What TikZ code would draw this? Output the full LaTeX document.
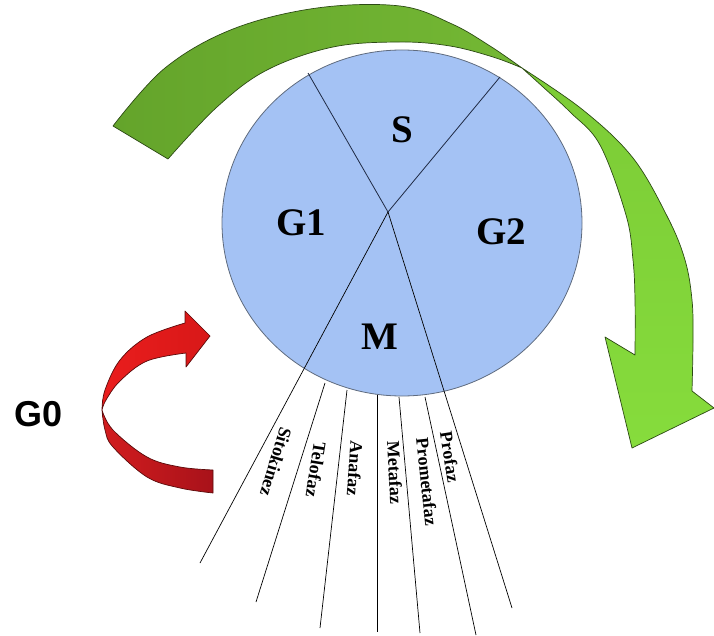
\documentclass[tikz,border=0pt]{standalone}
\usepackage{fontspec}
\setmainfont{Liberation Serif}
\newfontfamily\gsans{Liberation Sans}
\usetikzlibrary{shapes.geometric}
\definecolor{cellblue}{HTML}{A4C2F4}
\definecolor{cellline}{HTML}{5F6B7E}
\definecolor{greenA}{HTML}{64A42B}
\definecolor{greenB}{HTML}{74B834}
\definecolor{greenC}{HTML}{7CCB36}
\definecolor{greenD}{HTML}{86DC3C}
\definecolor{greenedge}{HTML}{2C4A14}
\definecolor{redA}{HTML}{EA1D1D}
\definecolor{redB}{HTML}{D81818}
\definecolor{redC}{HTML}{D21C1E}
\definecolor{redD}{HTML}{A8121A}
\definecolor{rededge}{HTML}{5A0A0A}
\definecolor{divline}{HTML}{1F2A44}
\begin{document}
\begin{tikzpicture}[x=1pt,y=-1pt,
  phaselabel/.style={font=\fontsize{39}{42}\selectfont\bfseries, inner sep=0pt},
  subphase/.style={font=\fontsize{18}{20}\selectfont\bfseries, inner sep=0pt},
  ray/.style={draw=black, line width=0.7pt},
  divider/.style={draw=divline, line width=0.8pt},
  ribbongreen/.style={draw=greenedge, line width=0.7pt, line join=round},
  ribbonred/.style={draw=rededge, line width=0.7pt, line join=round}]
\useasboundingbox (0,0) rectangle (714,636);

% green ribbon arrow, left (darker) part
\path[ribbongreen, left color=greenA, right color=greenB]
  plot[smooth, tension=0.6] coordinates {(113,126) (165,68) (233,29) (317,8) (400,6) (452,24) (490,46) (522,68)}
  -- plot[smooth, tension=0.6] coordinates {(522,68) (493,57) (450,46) (400,42) (333,47) (267,70) (217,107) (168,159)}
  -- cycle;
% green ribbon arrow, right (bright) part with head
\path[ribbongreen, top color=greenC, bottom color=greenD]
  plot[smooth, tension=0.6] coordinates {(522,68) (583,110) (633,158) (668,218) (685,260) (692,300) (693,340) (692,391)}
  -- (714,408) -- (632,448) -- (605,337) -- (635,355)
  -- plot[smooth, tension=0.6] coordinates {(635,355) (635,300) (633,260) (626,215) (600,145) (570,112) (543,87) (522,68)}
  -- cycle;

% red ribbon arrow, upper part with head
\path[ribbonred, left color=redA, right color=redB]
  (185,323) -- (185,311) -- (210,336) -- (186,367) -- (186,353)
  -- plot[smooth, tension=0.6] coordinates {(186,353) (147,361) (120,381) (106,400) (102,410)}
  -- plot[smooth, tension=0.6] coordinates {(102,410) (105,390) (120,360) (147,337) (185,323)}
  -- cycle;
% red ribbon arrow, lower part
\path[ribbonred, left color=redC, right color=redD]
  plot[smooth, tension=0.6] coordinates {(102,410) (105,430) (113,447) (147,477) (180,488) (213,493)}
  -- (213,470)
  -- plot[smooth, tension=0.6] coordinates {(213,470) (180,467) (147,457) (113,430) (102,410)}
  -- cycle;

% cell cycle disc
\node[ellipse, draw=cellline, fill=cellblue, line width=0.8pt,
      minimum width=360pt, minimum height=346pt, inner sep=0pt] (cell) at (402,223) {};

% division lines
\coordinate (hub) at (388,212);
\coordinate (t1) at (308,73);
\coordinate (t2) at (500,77);
\coordinate (e1) at (200,563);
\coordinate (e7) at (512,608);
\draw[divider] (hub) -- (t1);
\draw[divider] (hub) -- (t2);
\draw[ray] (hub) -- (e1);
\draw[ray] (hub) -- (e7);

% rays of the M phase
\coordinate (s2) at (325,383); \coordinate (e2) at (256,602);
\coordinate (s3) at (347,390); \coordinate (e3) at (320,628);
\coordinate (s4) at (377,395); \coordinate (e4) at (377,632);
\coordinate (s5) at (399,397); \coordinate (e5) at (420,633);
\coordinate (s6) at (425,397); \coordinate (e6) at (476,635);
\draw[ray] (s2) -- (e2);
\draw[ray] (s3) -- (e3);
\draw[ray] (s4) -- (e4);
\draw[ray] (s5) -- (e5);
\draw[ray] (s6) -- (e6);

% phase labels
\node[phaselabel] (S) at (402,130) {S};
\node[phaselabel] (G1) at (301,223) {G1};
\node[phaselabel] (G2) at (501,232) {G2};
\node[phaselabel] (M) at (380,337) {M};
\node[font=\gsans\fontsize{36}{40}\selectfont\bfseries, inner sep=0pt] (G0) at (39,414) {G0};

% sub-phase labels
\node[subphase, rotate=-107] (sito) at (276,462) {Sitokinez};
\node[subphase, rotate=-99] (telo) at (316,470) {Telofaz};
\node[subphase, rotate=-94] (ana) at (355,468) {Anafaz};
\node[subphase, rotate=-87] (meta) at (395,473) {Metafaz};
\node[subphase, rotate=-84] (prometa) at (427,482) {Prometafaz};
\node[subphase, rotate=-81] (pro) at (450,457) {Profaz};
\end{tikzpicture}
\end{document}
